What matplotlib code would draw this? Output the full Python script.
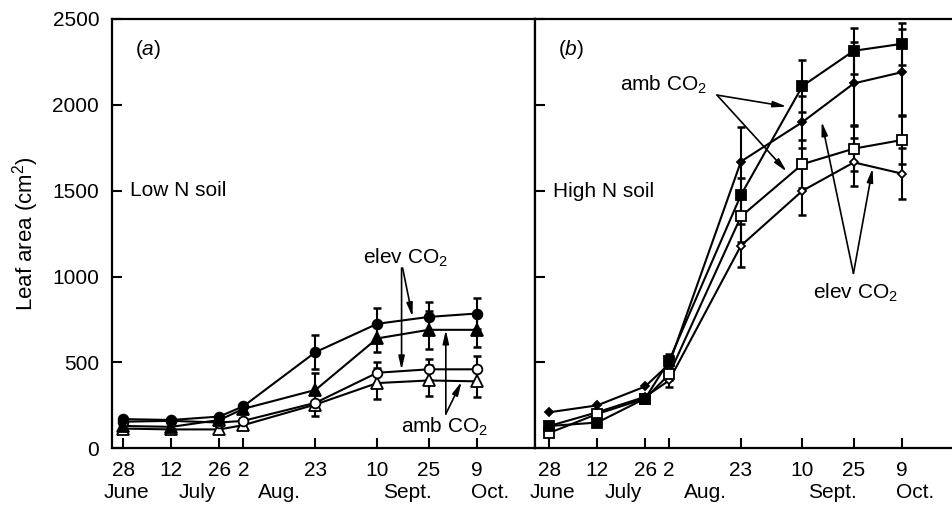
import numpy as np
import matplotlib
matplotlib.use("Agg")
import matplotlib.pyplot as plt
import matplotlib.transforms as mtransforms

plt.rcParams['font.family'] = ['Liberation Sans', 'DejaVu Sans']
plt.rcParams['mathtext.fontset'] = 'custom'
plt.rcParams['mathtext.rm'] = 'Liberation Sans'
plt.rcParams['mathtext.it'] = 'Liberation Sans:italic'

# sampling days, counted from 28 June
days = [0, 14, 28, 35, 56, 74, 89, 103]
day_labels = ['28', '12', '26', '2', '23', '10', '25', '9']
month_pos = [1, 21.6, 45.6, 82.8, 106.8]
month_labels = ['June', 'July', 'Aug.', 'Sept.', 'Oct.']

# (a) low N soil
low_fc = [170, 165, 185, 245, 560, 725, 765, 785]        # filled circle
low_fc_err = [0, 0, 0, 0, 100, 90, 85, 90]
low_ft = [130, 125, 165, 230, 340, 640, 690, 690]        # filled triangle
low_ft_err = [0, 0, 0, 0, 100, 80, 110, 100]
low_oc = [155, 160, 150, 160, 265, 440, 460, 460]        # open circle
low_oc_err = [0, 0, 0, 0, 0, 65, 60, 80]
low_ot = [115, 110, 110, 135, 255, 380, 395, 390]        # open triangle
low_ot_err = [0, 0, 0, 0, 65, 90, 90, 90]

# (b) high N soil
high_fs = [130, 150, 290, 510, 1475, 2110, 2315, 2355]   # filled square
high_fs_err = [0, 0, 0, 40, 100, 150, 135, 120]
high_fd = [210, 250, 360, 490, 1670, 1900, 2125, 2190]   # filled diamond
high_fd_err = [0, 0, 0, 0, 200, 150, 240, 250]
high_os = [90, 200, 290, 430, 1350, 1655, 1745, 1795]    # open square
high_os_err = [0, 0, 0, 30, 150, 140, 130, 140]
high_od = [130, 210, 300, 395, 1180, 1500, 1665, 1600]   # open diamond
high_od_err = [0, 0, 0, 40, 125, 140, 140, 150]

FS = 15


def draw_series(ax, y, err, marker, filled, ms, cap):
    x = np.array(days)
    y = np.array(y)
    err = np.array(err)
    keep = err > 0
    ax.errorbar(x[keep], y[keep], yerr=err[keep], fmt='none', ecolor='k',
                elinewidth=1.5, capsize=cap, capthick=1.8, zorder=2)
    ax.plot(x, y, '-', color='k', lw=1.5, marker=marker, ms=ms,
            mfc='k' if filled else 'white', mec='k', mew=1.3, zorder=3)


def arrow(ax, start, end):
    ax.annotate('', xy=end, xytext=start,
                arrowprops=dict(arrowstyle='-|>,head_length=0.8,head_width=0.18',
                                color='k', lw=1.2, shrinkA=0, shrinkB=0))


fig = plt.figure(figsize=(9.53, 5.08), dpi=100)
ax1 = fig.add_axes([0.1172, 0.1175, 0.4442, 0.8451])
ax2 = fig.add_axes([0.5614, 0.1175, 0.4386, 0.8451], sharey=ax1)

draw_series(ax1, low_ot, low_ot_err, '^', False, 8, 3)
draw_series(ax1, low_oc, low_oc_err, 'o', False, 7, 3)
draw_series(ax1, low_ft, low_ft_err, '^', True, 8, 3)
draw_series(ax1, low_fc, low_fc_err, 'o', True, 7, 3)

draw_series(ax2, high_od, high_od_err, 'D', False, 4, 2.8)
draw_series(ax2, high_os, high_os_err, 's', False, 6.5, 2.8)
draw_series(ax2, high_fd, high_fd_err, 'D', True, 4, 2.8)
draw_series(ax2, high_fs, high_fs_err, 's', True, 6.5, 2.8)

ax1.set_xlim(-3.4, 120)
ax2.set_xlim(-4.2, 118)
ax1.set_ylim(0, 2500)
ax1.set_yticks([0, 500, 1000, 1500, 2000, 2500])
ax1.set_ylabel('Leaf area (cm$^2$)', fontsize=16, labelpad=8)

for ax in (ax1, ax2):
    ax.set_xticks(days)
    ax.set_xticklabels(day_labels)
    ax.tick_params(direction='in', length=7, width=1.5, labelsize=FS)
    ax.tick_params(axis='x', pad=9)
    ax.tick_params(axis='y', pad=9)
    for s in ax.spines.values():
        s.set_linewidth(1.6)
    trans = mtransforms.blended_transform_factory(ax.transData, ax.transAxes)
    for p, m in zip(month_pos, month_labels):
        ax.text(p, -0.103, m, transform=trans, ha='center', va='center',
                fontsize=FS)

ax2.spines['right'].set_visible(False)
ax2.tick_params(axis='y', labelleft=False)

# panel (a) texts
ax1.text(7.2, 2320, '($\\it{a}$)', ha='center', va='center', fontsize=FS)
ax1.text(2, 1500, 'Low N soil', ha='left', va='center', fontsize=FS)
ax1.text(82.1, 1110, 'elev CO$_2$', ha='center', va='center', fontsize=FS)
arrow(ax1, (81.1, 1050), (81.1, 456))
arrow(ax1, (81.4, 1050), (84.3, 766))
ax1.text(93.7, 126, 'amb CO$_2$', ha='center', va='center', fontsize=FS)
arrow(ax1, (94, 200), (94, 690))
arrow(ax1, (94, 200), (98.6, 388))

# panel (b) texts
ax2.text(6.3, 2320, '($\\it{b}$)', ha='center', va='center', fontsize=FS)
ax2.text(1.2, 1495, 'High N soil', ha='left', va='center', fontsize=FS)
ax2.text(33.3, 2116, 'amb CO$_2$', ha='center', va='center', fontsize=FS)
arrow(ax2, (49, 2057), (69.4, 1990))
arrow(ax2, (49, 2057), (69.4, 1611))
ax2.text(89.5, 903, 'elev CO$_2$', ha='center', va='center', fontsize=FS)
arrow(ax2, (88.9, 1019), (79.6, 1902))
arrow(ax2, (88.9, 1019), (94.5, 1631))

fig.savefig('out.png', dpi=100)
